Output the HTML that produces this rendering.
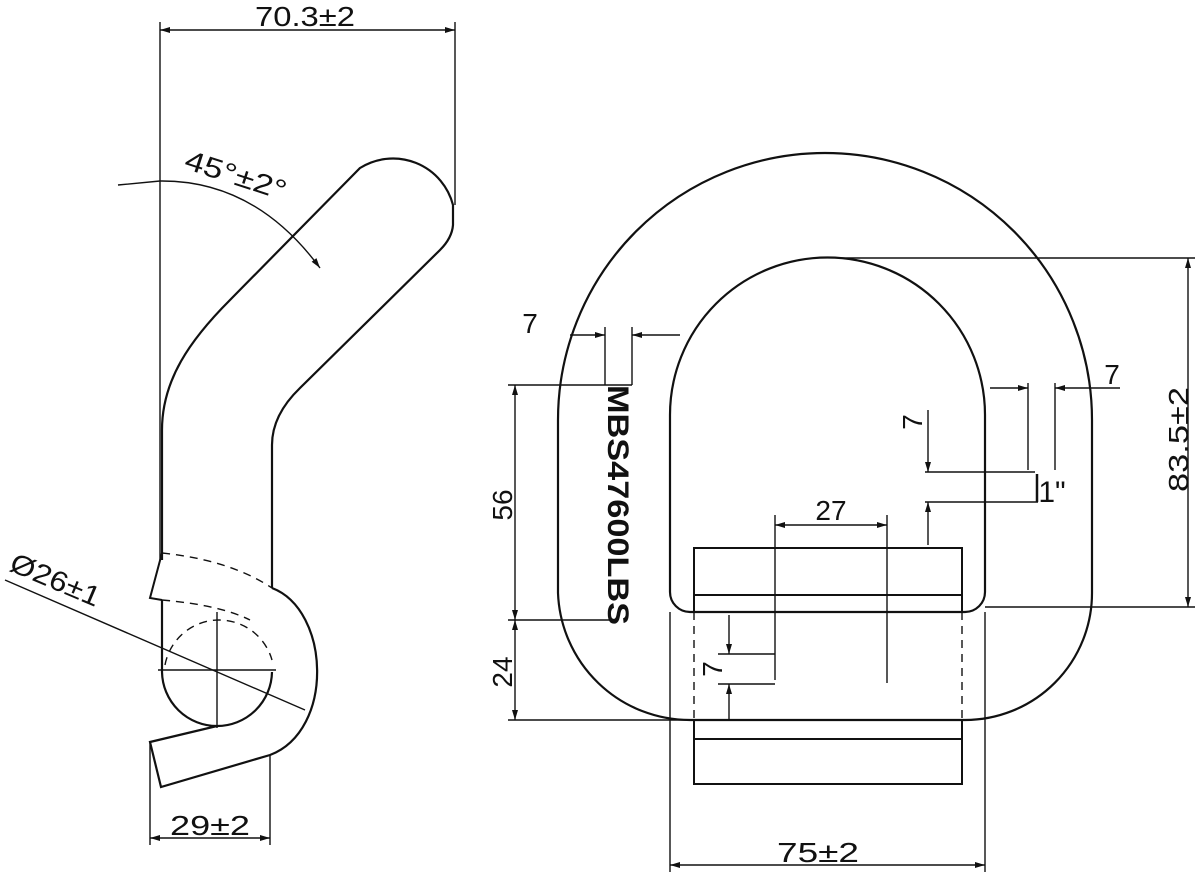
<!DOCTYPE html>
<html><head><meta charset="utf-8"><style>
html,body{margin:0;padding:0;background:#fff;}
svg{display:block;}
text{font-family:"Liberation Sans",sans-serif;fill:#111;}
</style></head><body>
<svg width="1201" height="880" viewBox="0 0 1201 880" xmlns="http://www.w3.org/2000/svg">
<defs>
<marker id="a" viewBox="0 0 10 6" refX="10" refY="3" markerWidth="14" markerHeight="6" markerUnits="userSpaceOnUse" orient="auto-start-reverse"><path d="M0 0 L10 3 L0 6 Z" fill="#111"/></marker>
</defs>
<g fill="none" stroke="#111" stroke-width="1.4">
<!-- LEFT HOOK -->
<line x1="160" y1="22" x2="160" y2="560"/>
<line x1="455" y1="22" x2="455" y2="205"/>
<line x1="160" y1="30" x2="455" y2="30" marker-start="url(#a)" marker-end="url(#a)"/>
<path stroke-width="2.2" d="M162 560 L162 430 C162 380 190 340 230 300 L360 168 A62 62 0 0 1 453 205 L453 225 Q452 238 440 250 L300 388 Q272 415 272 445 L272 588"/>
<path stroke-width="2.2" d="M272 588 C330 610 335 730 270 755 L161 787 L150 742 L217 726 A55 55 0 0 0 272 672 M217 726 A55 55 0 0 1 162 672 L162 600"/>
<path stroke-width="2" d="M162 553 L150 598 L162 600"/>
<path stroke-dasharray="8 6" d="M162 553 Q230 560 272 588"/>
<path stroke-dasharray="8 6" d="M162 600 Q220 605 250 620"/>
<path stroke-dasharray="8 6" d="M165 665 A55 55 0 0 1 272 660"/>
<line x1="158" y1="670" x2="276" y2="670"/>
<line x1="217" y1="612" x2="217" y2="728"/>
<line x1="5" y1="580" x2="305" y2="710"/>
<line x1="150" y1="742" x2="150" y2="845"/>
<line x1="270" y1="755" x2="270" y2="845"/>
<line x1="150" y1="838" x2="270" y2="838" marker-start="url(#a)" marker-end="url(#a)"/>
<path d="M118 185 L160 181 Q255 180 320 268" marker-end="url(#a)"/>
<!-- RIGHT D-RING -->
<path stroke-width="2.2" d="M690 720 L965 720 A127 127 0 0 0 1092 593 L1092 420 A267 267 0 0 0 558 420 L558 593 A132 132 0 0 0 690 720 Z"/>
<path stroke-width="2.2" d="M690 612 L965 612 A20 20 0 0 0 985 592 L985 415 A157.5 157.5 0 0 0 670 415 L670 592 A20 20 0 0 0 690 612 Z"/>
<rect x="694" y="548" width="268" height="64" stroke-width="2"/>
<line x1="694" y1="595" x2="962" y2="595" stroke-width="2"/>
<rect x="694" y="720" width="268" height="64" stroke-width="2"/>
<line x1="694" y1="739" x2="962" y2="739" stroke-width="2"/>
<line x1="694" y1="612" x2="694" y2="720" stroke-dasharray="8 6"/>
<line x1="962" y1="612" x2="962" y2="720" stroke-dasharray="8 6"/>
<line x1="670" y1="612" x2="670" y2="872"/>
<line x1="985" y1="612" x2="985" y2="872"/>
<line x1="670" y1="865" x2="985" y2="865" marker-start="url(#a)" marker-end="url(#a)"/>
<line x1="840" y1="258" x2="1195" y2="258"/>
<line x1="985" y1="607" x2="1195" y2="607"/>
<line x1="1188" y1="258" x2="1188" y2="607" marker-start="url(#a)" marker-end="url(#a)"/>
<line x1="1028" y1="383" x2="1028" y2="470"/>
<line x1="1055" y1="383" x2="1055" y2="470"/>
<line x1="990" y1="388" x2="1028" y2="388" marker-end="url(#a)"/>
<line x1="1120" y1="388" x2="1055" y2="388" marker-end="url(#a)"/>
<line x1="925" y1="472" x2="1035" y2="472"/>
<line x1="925" y1="502" x2="1038" y2="502"/>
<line x1="1037" y1="474" x2="1037" y2="502" stroke-width="2.5"/>
<line x1="928" y1="410" x2="928" y2="472" marker-end="url(#a)"/>
<line x1="928" y1="545" x2="928" y2="502" marker-end="url(#a)"/>
<line x1="775" y1="515" x2="775" y2="680"/>
<line x1="887" y1="515" x2="887" y2="683"/>
<line x1="775" y1="525" x2="887" y2="525" marker-start="url(#a)" marker-end="url(#a)"/>
<line x1="718" y1="654" x2="775" y2="654"/>
<line x1="718" y1="684" x2="775" y2="684"/>
<line x1="729" y1="615" x2="729" y2="654" marker-end="url(#a)"/>
<line x1="729" y1="720" x2="729" y2="684" marker-end="url(#a)"/>
<line x1="605" y1="327" x2="605" y2="385"/>
<line x1="632" y1="327" x2="632" y2="385"/>
<line x1="570" y1="335" x2="605" y2="335" marker-end="url(#a)"/>
<line x1="680" y1="335" x2="632" y2="335" marker-end="url(#a)"/>
<line x1="508" y1="385" x2="632" y2="385"/>
<line x1="508" y1="620" x2="610" y2="620"/>
<line x1="508" y1="720" x2="690" y2="720"/>
<line x1="515" y1="385" x2="515" y2="620" marker-start="url(#a)" marker-end="url(#a)"/>
<line x1="515" y1="620" x2="515" y2="720" marker-start="url(#a)" marker-end="url(#a)"/>
</g>
<g font-size="28">
<text x="255" y="26" textLength="100" lengthAdjust="spacingAndGlyphs">70.3±2</text>
<text x="0" y="0" transform="translate(183,168) rotate(18)" textLength="105" lengthAdjust="spacingAndGlyphs">45°±2°</text>
<text x="0" y="0" transform="translate(8,570) rotate(23)" textLength="95" lengthAdjust="spacingAndGlyphs">Ø26±1</text>
<text x="170" y="835" textLength="80" lengthAdjust="spacingAndGlyphs">29±2</text>
<text x="777" y="862" textLength="82" lengthAdjust="spacingAndGlyphs">75±2</text>
<text x="0" y="0" transform="translate(1188,492) rotate(-90)" textLength="105" lengthAdjust="spacingAndGlyphs">83.5±2</text>
<text x="1112" y="384" text-anchor="middle">7</text>
<text x="0" y="0" transform="translate(922,422) rotate(-90)" text-anchor="middle">7</text>
<text x="1052" y="502" text-anchor="middle" font-size="30">1"</text>
<text x="831" y="520" text-anchor="middle">27</text>
<text x="0" y="0" transform="translate(722,669) rotate(-90)" text-anchor="middle">7</text>
<text x="530" y="333" text-anchor="middle">7</text>
<text x="0" y="0" transform="translate(512,505) rotate(-90)" text-anchor="middle">56</text>
<text x="0" y="0" transform="translate(512,672) rotate(-90)" text-anchor="middle">24</text>
<text x="0" y="0" transform="translate(608,385) rotate(90)" font-size="30" font-weight="bold" textLength="240" lengthAdjust="spacingAndGlyphs">MBS47600LBS</text>
</g>
</svg>
</body></html>
